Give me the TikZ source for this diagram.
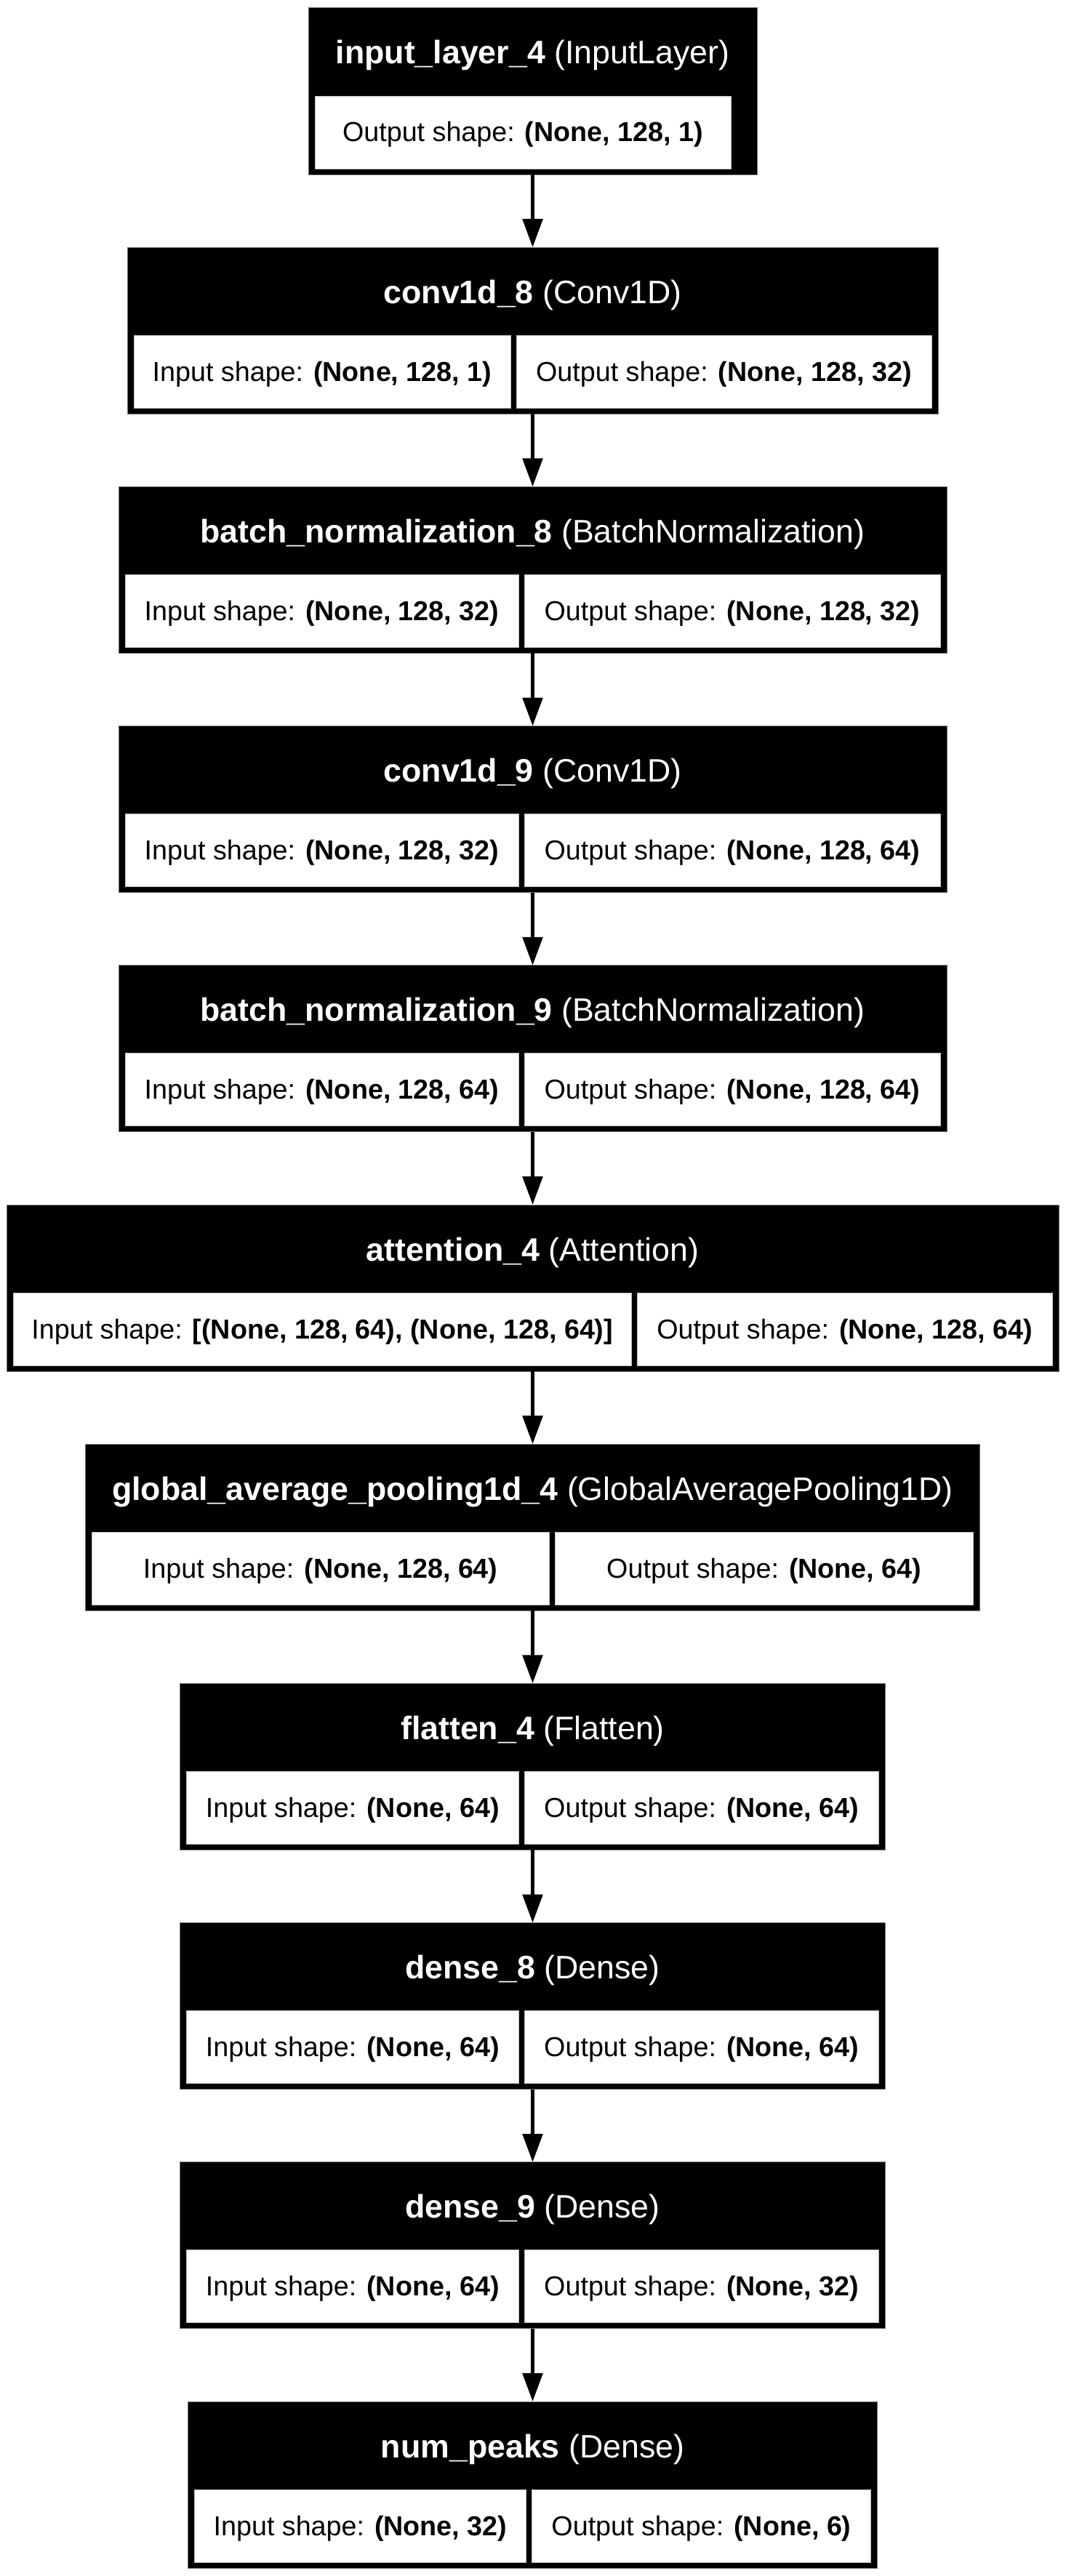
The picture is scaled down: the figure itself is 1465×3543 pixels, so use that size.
\documentclass[tikz,border=0pt]{standalone}
\usepackage{fontspec}
\setmainfont{Liberation Sans}
\usetikzlibrary{arrows.meta}
\newcommand\titlefont{\fontsize{44.7}{50}\selectfont}
\newcommand\bodyfont{\fontsize{37.7}{44}\selectfont}
\tikzset{
  layerbox/.style={fill=black, draw=black!55, line width=1pt, minimum height=229pt, inner sep=0pt, outer sep=0pt},
  cellbox/.style={fill=white, draw=black!25, line width=0.8pt, minimum height=100pt, inner sep=0pt, outer sep=0pt, text height=26pt, text depth=0pt, font=\bodyfont},
  titletext/.style={anchor=base, text=white, inner sep=0pt, font=\titlefont},
  flow/.style={line width=5.5pt, -{Triangle[length=39pt,width=27pt]}},
}
% #1 name, #2 top, #3 half width, #4 divider x, #5 bold title, #6 class, #7 input, #8 output
\newcommand\twolayer[8]{%
  \pgfmathsetmacro\Lleft{732.5-#3}%
  \pgfmathsetmacro\Lright{732.5+#3}%
  \pgfmathsetmacro\Lcy{#2+114.5}%
  \pgfmathsetmacro\Lw{2*#3}%
  \pgfmathsetmacro\Acx{(\Lleft+9+#4-4)/2}%
  \pgfmathsetmacro\Aw{#4-4-\Lleft-9}%
  \pgfmathsetmacro\Bcx{(#4+4+\Lright-9)/2}%
  \pgfmathsetmacro\Bw{\Lright-9-#4-4}%
  \pgfmathsetmacro\Ccy{#2+171}%
  \pgfmathsetmacro\Tby{#2+77}%
  \node[layerbox, minimum width=\Lw pt] (#1) at (732.5,\Lcy) {};
  \node[titletext] (#1-title) at (732.5,\Tby) {\textbf{#5} (#6)};
  \node[cellbox, minimum width=\Aw pt] (#1-in) at (\Acx,\Ccy) {Input shape: \textbf{#7}};
  \node[cellbox, minimum width=\Bw pt] (#1-out) at (\Bcx,\Ccy) {Output shape: \textbf{#8}};
}
\begin{document}
\begin{tikzpicture}[x=1pt,y=-1pt]
\useasboundingbox (0,0) rectangle (1465,3543);
\fill[white] (0,0) rectangle (1465,3543);
% layer 1
\node[layerbox, minimum width=617pt] (L1) at (732.5,125.5) {};
\node[titletext] (L1-title) at (732.5,88) {\textbf{input\_layer\_4} (InputLayer)};
\node[cellbox, minimum width=572pt] (L1-out) at (719,182) {Output shape: \textbf{(None, 128, 1)}};
\twolayer{L2}{340.2}{557.5}{706}{conv1d\_8}{Conv1D}{(None, 128, 1)}{(None, 128, 32)}
\twolayer{L3}{669.4}{569.5}{717}{batch\_normalization\_8}{BatchNormalization}{(None, 128, 32)}{(None, 128, 32)}
\twolayer{L4}{998.6}{569.5}{717}{conv1d\_9}{Conv1D}{(None, 128, 32)}{(None, 128, 64)}
\twolayer{L5}{1327.8}{569.5}{717}{batch\_normalization\_9}{BatchNormalization}{(None, 128, 64)}{(None, 128, 64)}
\twolayer{L6}{1657}{723.5}{872.5}{attention\_4}{Attention}{[(None, 128, 64), (None, 128, 64)]}{(None, 128, 64)}
\twolayer{L7}{1986.2}{615}{759}{global\_average\_pooling1d\_4}{GlobalAveragePooling1D}{(None, 128, 64)}{(None, 64)}
\twolayer{L8}{2315.4}{485}{717}{flatten\_4}{Flatten}{(None, 64)}{(None, 64)}
\twolayer{L9}{2644.6}{485}{717}{dense\_8}{Dense}{(None, 64)}{(None, 64)}
\twolayer{L10}{2973.8}{485}{717}{dense\_9}{Dense}{(None, 64)}{(None, 32)}
\twolayer{L11}{3303}{474}{727.5}{num\_peaks}{Dense}{(None, 32)}{(None, 6)}
\foreach \a/\b in {L1/L2,L2/L3,L3/L4,L4/L5,L5/L6,L6/L7,L7/L8,L8/L9,L9/L10,L10/L11}
  \draw[flow] (\a.south) -- (\b.north);
\end{tikzpicture}
\end{document}
